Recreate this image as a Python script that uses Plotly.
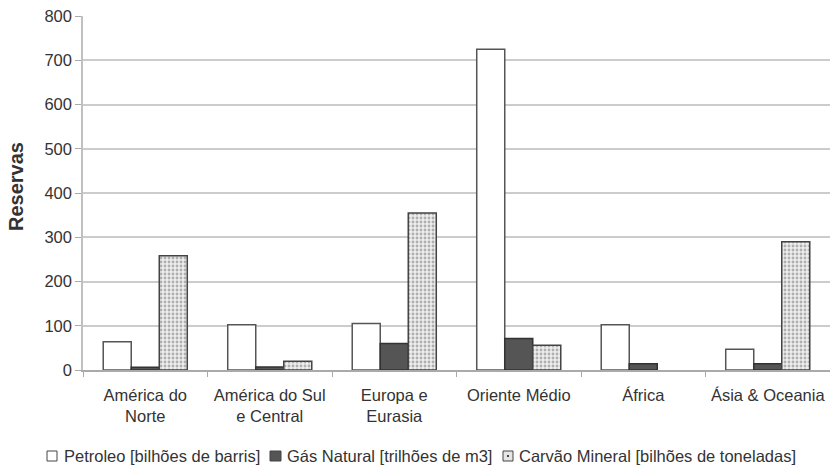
import plotly.graph_objects as go

categories = ["América do<br>Norte", "América do Sul<br>e Central", "Europa e<br>Eurasia",
              "Oriente Médio", "África", "Ásia & Oceania"]
petroleo = [64, 102, 105, 725, 102, 47]
gas = [6, 7, 60, 71, 14, 14]
carvao = [258, 20, 355, 56, None, 290]

series_names = ["Petroleo [bilhões de barris]", "Gás Natural [trilhões de m3]",
                "Carvão Mineral [bilhões de toneladas]"]

W, H = 830, 467
L, R, T, B = 83, 0, 16, 97
PW, PH = W - L - R, H - T - B


def px_x(px):
    return (px - L) / PW


def px_y(py):
    return (H - B - py) / PH


TEXT = "#333333"
FONT = "Liberation Sans, Arial, sans-serif"
FS = 16.5

pet_marker = dict(color="white", line=dict(color="#555555", width=1.5))
gas_marker = dict(color="#555555", line=dict(color="#333333", width=1.5))
coal_marker = dict(color="#eeeeee", line=dict(color="#444444", width=1.5),
                   pattern=dict(shape=".", fgcolor="#707070", bgcolor="#eeeeee",
                                size=4, solidity=0.4))

fig = go.Figure()
fig.add_trace(go.Bar(x=categories, y=petroleo, name=series_names[0], marker=pet_marker))
fig.add_trace(go.Bar(x=categories, y=gas, name=series_names[1], marker=gas_marker))
fig.add_trace(go.Bar(x=categories, y=carvao, name=series_names[2], marker=coal_marker))

# manual legend (symbols + text) placed like the reference
legend_boxes = [(47, 57), (270, 281), (503, 513)]
legend_text_x = [62, 285, 517]
legend_y = 456
shapes = []
annotations = []
for i, ((x0, x1), tx) in enumerate(zip(legend_boxes, legend_text_x)):
    fill = ["white", "#555555", "#e6e6e6"][i]
    shapes.append(dict(type="rect", xref="paper", yref="paper",
                       x0=px_x(x0), x1=px_x(x1), y0=px_y(legend_y + 5), y1=px_y(legend_y - 5),
                       fillcolor=fill, line=dict(color="#444444", width=1)))
    annotations.append(dict(text=series_names[i], xref="paper", yref="paper",
                            x=px_x(tx), y=px_y(legend_y), xanchor="left", yanchor="middle",
                            showarrow=False, font=dict(size=FS, color=TEXT, family=FONT)))
# dot inside the coal legend symbol
shapes.append(dict(type="rect", xref="paper", yref="paper",
                   x0=px_x(507), x1=px_x(509), y0=px_y(legend_y + 1), y1=px_y(legend_y - 1),
                   fillcolor="#444444", line=dict(width=0)))

annotations.append(dict(text="<b>Reservas</b>", xref="paper", yref="paper",
                        x=px_x(16), y=px_y(187), xanchor="center", yanchor="middle",
                        textangle=-90, showarrow=False,
                        font=dict(size=20, color=TEXT, family=FONT)))

fig.update_layout(
    width=W, height=H,
    margin=dict(l=L, r=R, t=T, b=B, autoexpand=False),
    paper_bgcolor="white", plot_bgcolor="white",
    barmode="group", bargap=0.325, bargroupgap=0,
    font=dict(family=FONT, size=FS, color=TEXT),
    showlegend=False,
    shapes=shapes, annotations=annotations,
    xaxis=dict(type="category", showline=True, linecolor="#aaaaaa", linewidth=1.5,
               ticks="outside", ticklen=5, tickcolor="#aaaaaa", tickson="boundaries",
               tickangle=0, ticklabelstandoff=9,
               tickfont=dict(size=FS, color=TEXT), showgrid=False,
               automargin=False),
    yaxis=dict(range=[0, 800], dtick=100, showline=True, linecolor="#c0c0c0", linewidth=1.5,
               ticks="outside", ticklen=6, tickcolor="#aaaaaa",
               gridcolor="#cccccc", gridwidth=1.5, automargin=False,
               tickfont=dict(size=FS, color=TEXT)),
)

fig.write_html("out.html", config={"displayModeBar": False},
               post_script="document.body.style.margin='0';document.body.style.overflow='hidden';")
